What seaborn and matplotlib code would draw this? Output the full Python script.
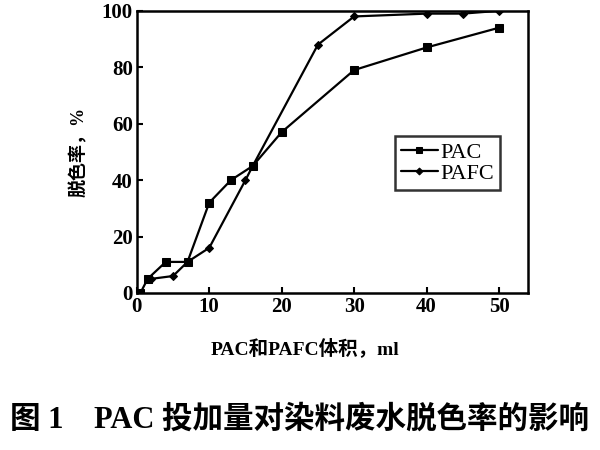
import pandas as pd
import seaborn as sns
import matplotlib.pyplot as plt

pac_x = [0.5, 1.5, 4, 7, 10, 13, 16, 20, 30, 40, 50]
pac_y = [0, 5, 11, 11, 32, 40, 45, 57, 79, 87, 94]
pafc_x = [2, 5, 7, 10, 15, 16, 25, 30, 40, 45, 50]
pafc_y = [5, 6, 11, 16, 40, 45, 88, 98, 99, 99, 100]
x_ticks = [0, 10, 20, 30, 40, 50]
y_ticks = [0, 20, 40, 60, 80, 100]

sns.set_theme(style="ticks")
fonts = ["Liberation Serif", "Noto Sans CJK SC"]
plt.rcParams["font.family"] = fonts
plt.rcParams["text.color"] = "black"
plt.rcParams["axes.labelcolor"] = "black"
plt.rcParams["xtick.color"] = "black"
plt.rcParams["ytick.color"] = "black"

df = pd.concat([
    pd.DataFrame({"x": pac_x, "y": pac_y, "s": "PAC"}),
    pd.DataFrame({"x": pafc_x, "y": pafc_y, "s": "PAFC"}),
])

fig = plt.figure(figsize=(6, 4.5), dpi=100)
ax = fig.add_axes([0.228, 0.349, 0.652, 0.627])
sns.lineplot(data=df, x="x", y="y", style="s", hue="s",
             palette={"PAC": "black", "PAFC": "black"},
             markers={"PAC": "s", "PAFC": "D"}, dashes=False,
             sort=False, estimator=None, linewidth=1.6, ax=ax)
for line in ax.lines:
    if line.get_marker() == "s":
        line.set_markersize(6)
    else:
        line.set_markersize(4)
    line.set_markeredgecolor("black")

ax.set_xlim(0, 54)
ax.set_ylim(0, 100)
ax.set_xticks(x_ticks)
ax.set_yticks(y_ticks)
ax.tick_params(direction="in", length=4, width=1.5, labelsize=15, pad=3)
for lab in ax.get_xticklabels() + ax.get_yticklabels():
    lab.set_fontweight("bold")
for sp in ax.spines.values():
    sp.set_linewidth(1.8)
    sp.set_color("black")

ax.set_xlabel("PAC和PAFC体积，ml", fontsize=14, fontweight="bold")
ax.xaxis.set_label_coords(0.43, -0.16)
ax.set_ylabel("脱色率，%", fontsize=13, fontweight="bold", labelpad=10)

handles, labels = ax.get_legend_handles_labels()
for h in handles:
    h.set_markersize(4.5 if h.get_marker() == "s" else 3.5)
leg = ax.legend(handles, labels, loc="center left", bbox_to_anchor=(0.66, 0.46),
                frameon=True, fancybox=False, edgecolor="black",
                prop={"family": fonts, "size": 16},
                handlelength=1.7, handletextpad=0.1, borderpad=0.25,
                labelspacing=0.05, borderaxespad=0)
leg.get_frame().set_linewidth(1.8)

fig.text(0.5, 0.066, "图 1    PAC 投加量对染料废水脱色率的影响", ha="center",
         va="center", fontsize=22, fontweight="bold", family=fonts)

fig.savefig("out.png", dpi=100)
